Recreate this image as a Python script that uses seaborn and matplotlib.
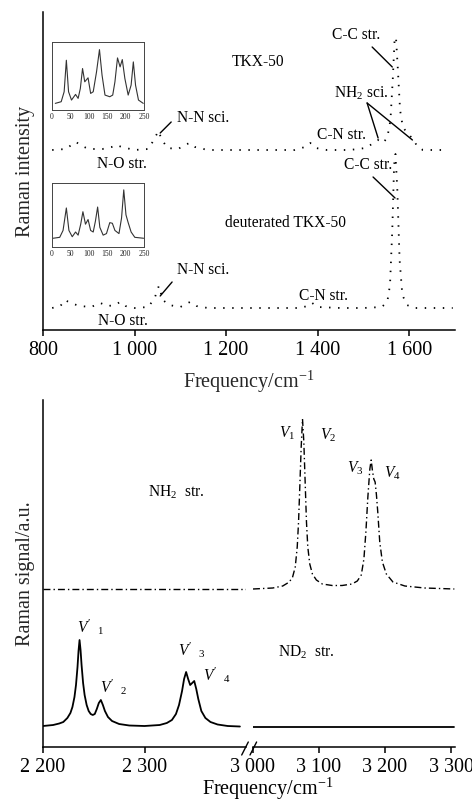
import numpy as np
import pandas as pd
import matplotlib
matplotlib.use("Agg")
import matplotlib.pyplot as plt
from matplotlib.lines import Line2D
import seaborn as sns

# ---------------- data ----------------
# Top panel: Raman spectra (arbitrary intensity units, offset stacked)
tkx_freq = [820, 850, 862, 872, 885, 900, 930, 950, 960, 972,
            1000, 1030, 1042, 1052, 1060, 1072, 1095, 1110, 1120, 1132,
            1160, 1200, 1250, 1300, 1350, 1372, 1384, 1396, 1420, 1470,
            1505, 1522, 1532, 1542, 1552, 1559, 1564, 1568, 1571, 1575,
            1580, 1586, 1594, 1602, 1610, 1618, 1630, 1660, 1680]
tkx_int = [180, 181, 185, 188, 184, 181, 181, 183, 185, 183,
           180, 181, 190, 199, 190, 182, 181, 185, 187, 183,
           180, 180, 180, 180, 180, 183, 187, 182, 180, 180,
           182, 187, 190, 187, 192, 210, 250, 290, 293, 262,
           220, 203, 198, 194, 190, 183, 180, 180, 180]

deut_freq = [820, 838, 848, 860, 880, 905, 925, 942, 958, 968,
             980, 1000, 1030, 1044, 1053, 1062, 1075, 1100, 1121, 1135,
             1160, 1220, 1300, 1360, 1378, 1388, 1400, 1450, 1500, 1540,
             1552, 1558, 1563, 1567, 1570, 1574, 1579, 1585, 1595, 1610,
             1650, 1695]
deut_int = [22, 24, 30, 27, 24, 23, 27, 24, 25, 28,
            24, 22, 23, 32, 44, 30, 25, 23, 28, 24,
            22, 22, 22, 22, 24, 27, 23, 22, 22, 23,
            28, 45, 100, 165, 176, 140, 70, 35, 25, 22,
            22, 22]

# Insets (low-frequency region, 0-250 cm-1)
in1_x = [9, 25, 33, 39, 45, 53, 64, 71, 77, 83, 89, 98, 105, 112, 121, 129,
         136, 144, 157, 165, 171, 178, 185, 191, 198, 207, 215, 221, 227, 235, 248]
in1_y = [20, 25, 55, 150, 55, 30, 47, 35, 65, 125, 85, 97, 50, 55, 115, 182,
         105, 45, 40, 45, 85, 157, 130, 152, 95, 45, 75, 145, 75, 30, 20]

in2_x = [3, 21, 30, 39, 46, 55, 64, 71, 78, 84, 91, 98, 105, 112, 118, 124,
         130, 139, 148, 157, 164, 171, 182, 189, 195, 201, 207, 215, 225, 249]
in2_y = [28, 31, 53, 125, 53, 33, 48, 38, 73, 113, 73, 88, 53, 48, 83, 128,
         63, 38, 43, 78, 76, 53, 43, 93, 183, 103, 78, 48, 31, 28]

# Bottom panel: ND2 stretching (solid) and NH2 stretching (dash-dot)
nd2_freq = [2200, 2210, 2216, 2220, 2224, 2227, 2229, 2231, 2232.5, 2234,
            2235, 2236, 2237, 2238, 2239.5, 2241, 2243, 2245, 2247, 2249,
            2251, 2253, 2255, 2257, 2259, 2261, 2264, 2268, 2275, 2285,
            2300, 2315, 2322, 2327, 2331, 2334, 2337, 2339, 2341, 2343,
            2345, 2347, 2349, 2351, 2353, 2356, 2360, 2365, 2372, 2382, 2394]
nd2_int = [21, 22, 23.5, 25, 29, 34, 40, 50, 62, 80,
           96, 107, 97, 82, 64, 52, 42, 36, 33, 32,
           33, 38, 44, 47, 42, 36, 30, 26, 23, 21.5,
           21, 22, 24, 27, 33, 42, 56, 68, 75, 68,
           62, 64, 66, 58, 48, 36, 29, 25, 22.5, 21, 20.5]
nd2_hi_freq = [3000, 3305]
nd2_hi_int = [20, 20]

nh2_lo_freq = [2200, 2400]
nh2_lo_int = [158, 158]
nh2_freq = [3000, 3030, 3045, 3055, 3060, 3064, 3067, 3069, 3071, 3073,
            3075, 3077, 3079, 3081, 3083, 3086, 3090, 3096, 3105, 3120,
            3135, 3150, 3158, 3164, 3168, 3171, 3174, 3177, 3179, 3181,
            3183, 3185, 3187, 3189, 3192, 3196, 3202, 3212, 3230, 3260, 3305]
nh2_int = [158, 159, 161, 165, 170, 180, 200, 225, 262, 300,
           328, 305, 265, 225, 200, 183, 173, 167, 163, 161.5,
           161.5, 163, 166, 172, 188, 215, 250, 278, 287, 276,
           268, 265, 252, 235, 205, 185, 173, 165, 161, 159, 158]

top_ticks = [800, 1000, 1200, 1400, 1600]
top_ticklabels = ["800", "1 000", "1 200", "1 400", "1 600"]
lo_ticks = [2200, 2300]
lo_ticklabels = ["2 200", "2 300"]
hi_ticks = [3000, 3100, 3200, 3300]
hi_ticklabels = ["3 000", "3 100", "3 200", "3 300"]
inset_ticks = [0, 50, 100, 150, 200, 250]
inset_ticklabels = ["0", "50", "100", "150", "200", "250"]

# ---------------- style ----------------
sns.set_theme(style="white")
plt.rcParams['font.family'] = ['Liberation Serif', 'DejaVu Serif']
plt.rcParams['mathtext.fontset'] = 'custom'
plt.rcParams['mathtext.rm'] = 'Liberation Serif'
plt.rcParams['mathtext.it'] = 'Liberation Serif:italic'
plt.rcParams['mathtext.bf'] = 'Liberation Serif:bold'
plt.rcParams['axes.edgecolor'] = 'black'
plt.rcParams['axes.linewidth'] = 1.1
plt.rcParams['text.color'] = 'black'

W, H = 472, 801
fig = plt.figure(figsize=(W / 100, H / 100), dpi=100)


def fig_rect(x0, y0, x1, y1):
    return [x0 / W, 1 - y1 / H, (x1 - x0) / W, (y1 - y0) / H]


DOT = (0, (0.8, 4.2))
DASHDOT = (0, (5, 2.2, 1, 2.2))
TXT = 11.2
TICK = 14.5

# ---------------- top panel ----------------
ax1 = fig.add_axes(fig_rect(43, 12, 455, 330))
sns.lineplot(x=tkx_freq, y=tkx_int, ax=ax1, color='black', lw=1.3,
             linestyle=DOT, sort=False, estimator=None)
sns.lineplot(x=deut_freq, y=deut_int, ax=ax1, color='black', lw=1.3,
             linestyle=DOT, sort=False, estimator=None)
for ln in ax1.get_lines():
    ln.set_linestyle(DOT)
ax1.set_xlim(800, 1700)
ax1.set_ylim(0, 318)
ax1.set_xticks(top_ticks)
ax1.set_xticklabels(top_ticklabels, fontsize=TICK)
ax1.set_yticks([])
ax1.tick_params(axis='x', direction='out', length=4, width=1.1, pad=4,
                bottom=True, colors='black')
for s in ['top', 'right']:
    ax1.spines[s].set_visible(False)
ax1.set_xlabel(r"Frequency/cm$^{-1}$", fontsize=TICK, labelpad=6)
ax1.set_ylabel("Raman intensity", fontsize=TICK, labelpad=6)

txt_top = [
    ("TKX-50", 1270, 268), ("C-C str.", 1484, 295), (r"NH$_2$ sci.", 1495, 237),
    ("C-N str.", 1451, 195), ("N-N sci.", 1150, 212), ("N-O str.", 973, 166),
    ("C-C str.", 1510, 165), ("deuterated TKX-50", 1329, 107),
    ("N-N sci.", 1150, 60), ("C-N str.", 1412, 34), ("N-O str.", 975, 9),
]
for t, x, y in txt_top:
    ax1.text(x, y, t, fontsize=TXT, ha='center', va='center')
leaders = [((1519, 283), (1563, 263)), ((1508, 227), (1532, 192)),
           ((1508, 227), (1607, 190)), ((1080, 208), (1056, 197)),
           ((1521, 153), (1569, 132)), ((1082, 48), (1056, 34))]
for (x0, y0), (x1, y1) in leaders:
    ax1.annotate('', xy=(x1, y1), xytext=(x0, y0),
                 arrowprops=dict(arrowstyle='-', lw=1.0, color='black',
                                 shrinkA=0, shrinkB=0))

# insets
for rect, xs, ys in [((52, 42, 144, 110), in1_x, in1_y),
                     ((52, 183, 144, 247), in2_x, in2_y)]:
    ai = fig.add_axes(fig_rect(*rect))
    sns.lineplot(x=xs, y=ys, ax=ai, color='#333333', lw=0.8,
                 sort=False, estimator=None)
    ai.set_xlim(0, 250)
    ai.set_ylim(0, 205)
    ai.set_xticks(inset_ticks)
    ai.set_xticklabels(inset_ticklabels, fontsize=5.5)
    ai.set_yticks([])
    ai.tick_params(axis='x', length=0, pad=2, colors='#222222')
    for s in ai.spines.values():
        s.set_linewidth(0.7)
        s.set_color('#444444')

# ---------------- bottom panel ----------------
axL = fig.add_axes(fig_rect(43, 400, 246, 747))
axR = fig.add_axes(fig_rect(253, 400, 455, 747))

sns.lineplot(x=nd2_freq, y=nd2_int, ax=axL, color='black', lw=1.3,
             sort=False, estimator=None)
sns.lineplot(x=nh2_lo_freq, y=nh2_lo_int, ax=axL, color='black', lw=1.0,
             linestyle=DASHDOT, sort=False, estimator=None)
sns.lineplot(x=nd2_hi_freq, y=nd2_hi_int, ax=axR, color='black', lw=1.3,
             sort=False, estimator=None)
sns.lineplot(x=nh2_freq, y=nh2_int, ax=axR, color='black', lw=1.0,
             linestyle=DASHDOT, sort=False, estimator=None)
axL.get_lines()[1].set_linestyle(DASHDOT)
axR.get_lines()[1].set_linestyle(DASHDOT)

axL.set_xlim(2200, 2400)
axR.set_xlim(3000, 3306)
for a in (axL, axR):
    a.set_ylim(0, 347)
    a.set_yticks([])
    a.tick_params(axis='x', direction='out', length=4, width=1.1, pad=4,
                  bottom=True, colors='black')
    for s in ['top', 'right']:
        a.spines[s].set_visible(False)
    a.patch.set_alpha(0)
axR.spines['left'].set_visible(False)
axL.set_xticks(lo_ticks)
axL.set_xticklabels(lo_ticklabels, fontsize=TICK)
axR.set_xticks(hi_ticks)
axR.set_xticklabels(hi_ticklabels, fontsize=TICK)
axL.set_ylabel("Raman signal/a.u.", fontsize=TICK, labelpad=6)
fig.text(268 / W, 1 - 789 / H, r"Frequency/cm$^{-1}$", fontsize=TICK,
         ha='center', va='center')

# labels on the peaks
axR.text(3051.5, 314, r"$V_1$", fontsize=TXT, ha='center', va='center')
axR.text(3113.6, 312, r"$V_2$", fontsize=TXT, ha='center', va='center')
axR.text(3154.5, 279, r"$V_3$", fontsize=TXT, ha='center', va='center')
axR.text(3210.6, 274, r"$V_4$", fontsize=TXT, ha='center', va='center')
axL.text(2303, 255, r"NH$_2$  str.", fontsize=TXT, ha='left', va='center')
axR.text(3038, 95, r"ND$_2$  str.", fontsize=TXT, ha='left', va='center')
axL.text(2233.5, 120, r"$V'\ \ {}_1$", fontsize=TXT, ha='left', va='center')
axL.text(2256, 60, r"$V'\ \ {}_2$", fontsize=TXT, ha='left', va='center')
axL.text(2333, 97, r"$V'\ \ {}_3$", fontsize=TXT, ha='left', va='center')
axL.text(2357.6, 72, r"$V'\ \ {}_4$", fontsize=TXT, ha='left', va='center')

# axis break marks
for x0 in (241.7, 250.0):
    fig.add_artist(Line2D([x0 / W, (x0 + 6.6) / W],
                          [1 - 755 / H, 1 - 742 / H],
                          transform=fig.transFigure, color='black', lw=1.0))

fig.savefig("out.png", dpi=100)
